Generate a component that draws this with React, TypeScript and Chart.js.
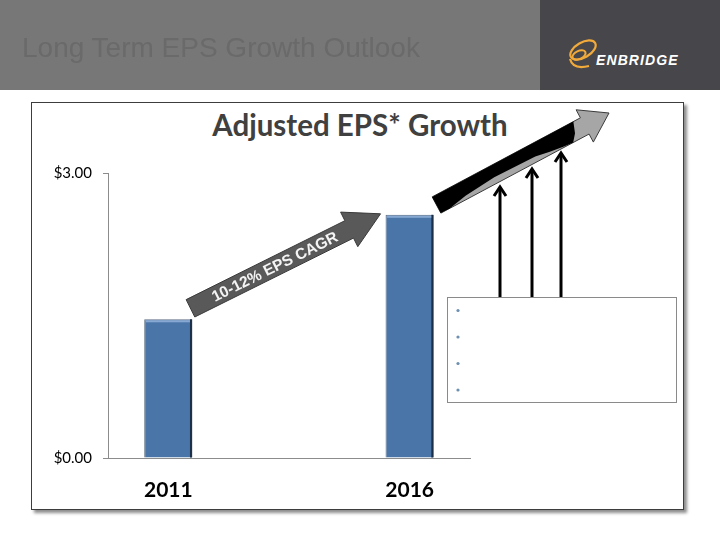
import React, { useEffect, useRef } from "react";
import { Chart, registerables } from "chart.js";

Chart.register(...registerables);

// ---- data ----
const categories = ["2011", "", "2016"];
const epsValues: (number | null)[] = [1.46, null, 2.56];
const yTickValues = [0, 3];
const arrowLabel = "10-12% EPS CAGR";
const chartTitle = "Adjusted EPS* Growth";
const headerTitle = "Long Term EPS Growth Outlook";
const logoText = "ENBRIDGE";
const calloutBullets = ["", "", "", ""];

type Pt = [number, number];

function blockArrow(x0: number, y0: number, x1: number, y1: number, w: number, hw: number, hl: number) {
  const dx = x1 - x0, dy = y1 - y0;
  const L = Math.hypot(dx, dy);
  const ux = dx / L, uy = dy / L;
  const nx = uy, ny = -ux; // points "up/left" for upward-right arrows
  const nkx = x1 - ux * hl, nky = y1 - uy * hl;
  const pts: Pt[] = [
    [x0 + nx * w, y0 + ny * w],
    [nkx + nx * w, nky + ny * w],
    [nkx + nx * hw, nky + ny * hw],
    [x1, y1],
    [nkx - nx * hw, nky - ny * hw],
    [nkx - nx * w, nky - ny * w],
    [x0 - nx * w, y0 - ny * w],
  ];
  return { pts, ux, uy, nx, ny, L };
}

function poly(ctx: CanvasRenderingContext2D, pts: Pt[]) {
  ctx.beginPath();
  pts.forEach((p, i) => (i ? ctx.lineTo(p[0], p[1]) : ctx.moveTo(p[0], p[1])));
  ctx.closePath();
}

const decor = {
  id: "decor",
  afterDatasetsDraw(chart: any) {
    const ctx: CanvasRenderingContext2D = chart.ctx;
    const meta = chart.getDatasetMeta(0);
    ctx.save();
    meta.data.forEach((bar: any, i: number) => {
      if (epsValues[i] == null) return;
      const p = bar.getProps(["x", "y", "base", "width"], true);
      const left = p.x - p.width / 2, right = p.x + p.width / 2;
      ctx.fillStyle = "#1d2f47";
      ctx.fillRect(right - 2.5, p.y, 2, p.base - p.y);
      ctx.fillStyle = "#86a8d2";
      ctx.fillRect(left + 1.5, p.y + 1, p.width - 4, 2);
    });
    ctx.restore();
  },
  afterDraw(chart: any) {
    const ctx: CanvasRenderingContext2D = chart.ctx;
    const meta = chart.getDatasetMeta(0);
    const a = chart.chartArea;
    const b1 = meta.data[0].getProps(["x", "y", "width"], true);
    const b2 = meta.data[2].getProps(["x", "y", "width"], true);
    ctx.save();

    // CAGR arrow between bars
    const t0: Pt = [b1.x + b1.width / 2 - 2, b1.y - 11];
    const t1: Pt = [b2.x - b2.width / 2 - 5, b2.y - 1];
    const ar = blockArrow(t0[0], t0[1], t1[0], t1[1], 9.7, 19.3, 35);
    poly(ctx, ar.pts);
    ctx.fillStyle = "#595959";
    ctx.fill();
    ctx.strokeStyle = "#3a3a3a";
    ctx.lineWidth = 1;
    ctx.stroke();
    const s = 94;
    const cx = t0[0] + ar.ux * s, cy = t0[1] + ar.uy * s;
    ctx.translate(cx, cy);
    ctx.rotate(Math.atan2(ar.uy, ar.ux));
    ctx.fillStyle = "#f4f4f4";
    ctx.font = "bold 15.5px 'Liberation Sans', Arial, sans-serif";
    ctx.textAlign = "center";
    ctx.textBaseline = "middle";
    ctx.fillText(arrowLabel, 0, 1);
    ctx.setTransform(1, 0, 0, 1, 0, 0);

    // big outlook arrow
    const g0: Pt = [a.right - 33.5, a.top + 32];
    const g1: Pt = [a.right + 139, a.top - 60];
    const ga = blockArrow(g0[0], g0[1], g1[0], g1[1], 9.2, 18.3, 27.5);
    poly(ctx, ga.pts);
    ctx.fillStyle = "#a6a6a6";
    ctx.fill();
    ctx.strokeStyle = "#3a3a3a";
    ctx.lineWidth = 1;
    ctx.stroke();
    // black shading on shaft
    const w = 9.2;
    const loc = (sv: number, tv: number): Pt => [
      g0[0] + ga.ux * sv + ga.nx * tv,
      g0[1] + ga.uy * sv + ga.ny * tv,
    ];
    const shade: [number, number][] = [
      [0, -w], [10, -w], [30, -w * 0.6], [64, -w * 0.3], [110, -w * 0.4], [125, -w * 0.7], [140, -w * 0.9], [150, -w], [156, -w * 0.2], [160, w],
    ];
    ctx.beginPath();
    const st = loc(0, w);
    ctx.moveTo(st[0], st[1]);
    for (let i = shade.length - 1; i >= 0; i--) {
      const p = loc(shade[i][0], shade[i][1]);
      ctx.lineTo(p[0], p[1]);
    }
    ctx.closePath();
    ctx.fillStyle = "#000";
    ctx.fill();

    // callout box
    const bx = a.right - 22.5, by = 297.5, bw = 229, bh = 105;
    // vertical arrows
    const vx = [bx + 52.5, bx + 84.5, bx + 113.5];
    const vtop = [186, 168, 152];
    ctx.strokeStyle = "#000";
    ctx.lineWidth = 3;
    ctx.lineJoin = "miter";
    vx.forEach((x, i) => {
      ctx.beginPath();
      ctx.moveTo(x, by);
      ctx.lineTo(x, vtop[i] + 1);
      ctx.stroke();
      ctx.beginPath();
      ctx.moveTo(x - 6, vtop[i] + 10);
      ctx.lineTo(x, vtop[i] + 1);
      ctx.lineTo(x + 6, vtop[i] + 10);
      ctx.stroke();
    });
    ctx.fillStyle = "#fff";
    ctx.fillRect(bx, by, bw, bh);
    ctx.strokeStyle = "#8a8a8a";
    ctx.lineWidth = 1;
    ctx.strokeRect(bx, by, bw, bh);
    ctx.fillStyle = "#6d8fb0";
    calloutBullets.forEach((_, i) => {
      ctx.beginPath();
      ctx.arc(bx + 10.5, by + 13 + i * 26.5, 1.6, 0, Math.PI * 2);
      ctx.fill();
    });
    ctx.restore();
  },
};

export default function App() {
  const ref = useRef<HTMLCanvasElement>(null);
  useEffect(() => {
    if (!ref.current) return;
    const chart = new Chart(ref.current, {
      type: "bar",
      data: {
        labels: categories,
        datasets: [
          {
            data: epsValues,
            backgroundColor: "#4a75a8",
            borderColor: "#5f6f84",
            borderWidth: 1,
            barPercentage: 0.4,
            categoryPercentage: 1,
          },
        ],
      },
      options: {
        responsive: false,
        animation: false,
        layout: { padding: { top: 173, right: 250, left: 0, bottom: 0 } },
        plugins: { legend: { display: false }, tooltip: { enabled: false }, title: { display: false } },
        scales: {
          x: {
            grid: { display: true, drawOnChartArea: false, drawTicks: false },
            border: { color: "#8c8c8c", width: 1 },
            ticks: { font: { family: "Lato", size: 21, weight: "bold" }, color: "#000", padding: 20 },
            afterFit: (s: any) => { s.height = 82; },
          },
          y: {
            min: 0,
            max: 3,
            afterBuildTicks: (s: any) => { s.ticks = yTickValues.map((v) => ({ value: v })); },
            grid: { drawOnChartArea: false, tickLength: 5, color: "#8c8c8c" },
            border: { color: "#8c8c8c" },
            ticks: {
              callback: (v: any) => "$" + Number(v).toFixed(2),
              font: { family: "Lato", size: 15 },
              color: "#000",
              padding: 11,
            },
            afterFit: (s: any) => { s.width = 108; },
          },
        },
      } as any,
      plugins: [decor],
    });
    return () => chart.destroy();
  }, []);

  return (
    <div style={{ position: "fixed", left: 0, top: 0, width: 720, height: 540, background: "#fff", overflow: "hidden" }}>
      <div style={{ position: "absolute", left: 0, top: 0, width: 540, height: 90, background: "#777777" }} />
      <div style={{ position: "absolute", left: 540, top: 0, width: 180, height: 90, background: "#47474b" }} />
      <div
        style={{
          position: "absolute", left: 22, top: 29, fontFamily: "'Liberation Sans', Arial, sans-serif",
          fontSize: 28, lineHeight: "38px", color: "#6a6a6a", whiteSpace: "nowrap", filter: "blur(0.4px)",
        }}
      >
        {headerTitle}
      </div>
      <svg style={{ position: "absolute", left: 564, top: 35 }} width={38} height={38} viewBox="0 0 38 38">
        <ellipse cx={19} cy={15} rx={14} ry={7.5} transform="rotate(-30 19 15)" fill="none" stroke="#f2aa3a" strokeWidth={2.2} />
        <ellipse cx={15} cy={20} rx={7} ry={4} transform="rotate(-25 15 20)" fill="none" stroke="#f2aa3a" strokeWidth={2} />
        <path d="M6 24 Q9 35 25 31" fill="none" stroke="#f2aa3a" strokeWidth={2.2} />
      </svg>
      <div
        style={{
          position: "absolute", left: 596, top: 52, fontFamily: "'Liberation Sans', Arial, sans-serif",
          fontSize: 14, fontWeight: "bold", fontStyle: "italic", letterSpacing: 1.1, color: "#fff", lineHeight: "16px",
        }}
      >
        {logoText}
      </div>
      <div
        style={{
          position: "absolute", left: 31, top: 102, width: 651, height: 406, border: "1.5px solid #3d3d3d",
          boxShadow: "3px 3px 3px rgba(0,0,0,0.45)", background: "#fff",
        }}
      />
      <div
        style={{
          position: "absolute", left: 0, width: 720, top: 106, textAlign: "center", fontFamily: "Lato, sans-serif",
          fontWeight: "bold", fontSize: 29.5, lineHeight: "38px", color: "#404040",
        }}
      >
        {chartTitle}
      </div>
      <canvas ref={ref} width={720} height={540} style={{ position: "absolute", left: 0, top: 0 }} />
    </div>
  );
}
